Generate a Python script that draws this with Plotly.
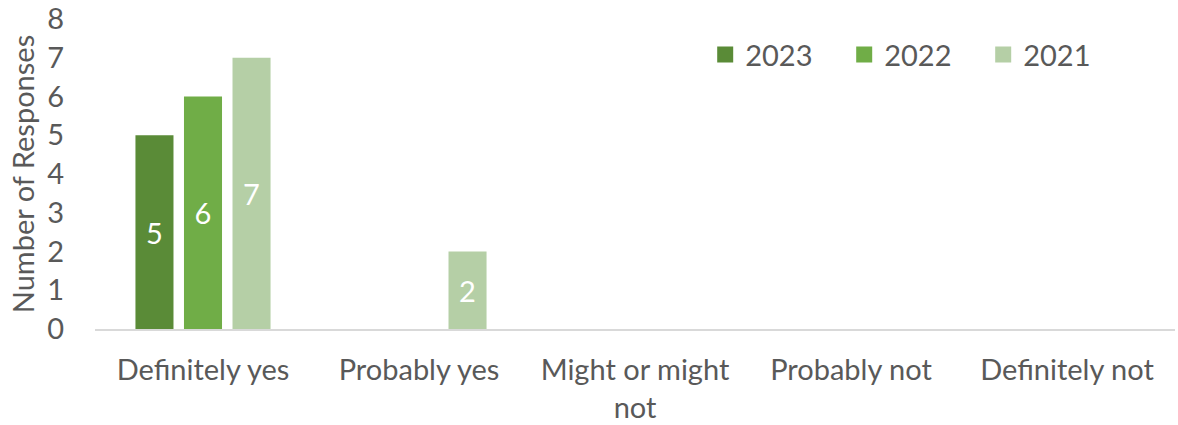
import plotly.graph_objects as go

categories = ["Definitely yes", "Probably yes", "Might or might<br>not", "Probably not", "Definitely not"]
series_names = ["2023", "2022", "2021"]
values_2023 = [5, 0, 0, 0, 0]
values_2022 = [6, 0, 0, 0, 0]
values_2021 = [7, 2, 0, 0, 0]
y_ticks = [0, 1, 2, 3, 4, 5, 6, 7, 8]

colors = ["#5A8B37", "#70AD47", "#B5CFA6"]
FONT = "Lato"
FS = 29
GREY = "#595959"
CLEAR = "rgba(0,0,0,0)"

fig = go.Figure()
for name, vals, col in zip(series_names, [values_2023, values_2022, values_2021], colors):
    fig.add_trace(go.Bar(
        x=categories, y=vals, name=name, marker=dict(color=col, line=dict(width=0)),
        text=[str(v) if v else "" for v in vals], textposition="inside",
        insidetextanchor="middle", textangle=0, showlegend=False, legendgroup=name,
        textfont=dict(color="white", size=FS, family=FONT),
    ))
# legend entries (square swatches)
for name, col in zip(series_names, colors):
    fig.add_trace(go.Scatter(
        x=[None], y=[None], mode="markers", name=name, legendgroup=name,
        marker=dict(symbol="square", size=19, color=col, line=dict(width=0)),
        hoverinfo="skip",
    ))

fig.update_layout(
    width=1178, height=425,
    margin=dict(l=95, r=3, t=19, b=96, autoexpand=False),
    paper_bgcolor="white", plot_bgcolor="white",
    barmode="group", bargap=0.326, bargroupgap=0.216,
    font=dict(family=FONT, color=GREY, size=FS),
    uniformtext=dict(mode="show", minsize=10),
    legend=dict(orientation="h", x=0.565, y=0.885, xanchor="left", yanchor="middle",
                font=dict(size=FS, color=GREY, family=FONT),
                traceorder="normal", bgcolor=CLEAR, itemsizing="trace",
                entrywidth=94, entrywidthmode="pixels"),
    showlegend=True,
)
fig.update_xaxes(showline=True, linecolor="#D9D9D9", linewidth=2, ticks="outside",
                 ticklen=14, tickcolor=CLEAR, ticklabeloverflow="allow",
                 tickfont=dict(size=FS, color=GREY), showgrid=False)
fig.update_yaxes(range=[0, 8], tickvals=y_ticks, showgrid=False, zeroline=False,
                 showline=False, ticks="outside", ticklen=24, tickcolor=CLEAR,
                 ticklabeloverflow="allow",
                 tickfont=dict(size=FS, color=GREY),
                 title=dict(text="Number of Responses", font=dict(size=FS, color=GREY), standoff=4))

# remove the default 8px page margin so the figure fills the window exactly
fig.write_html("out.html", config={"displayModeBar": False},
               post_script="document.body.style.margin='0';")
